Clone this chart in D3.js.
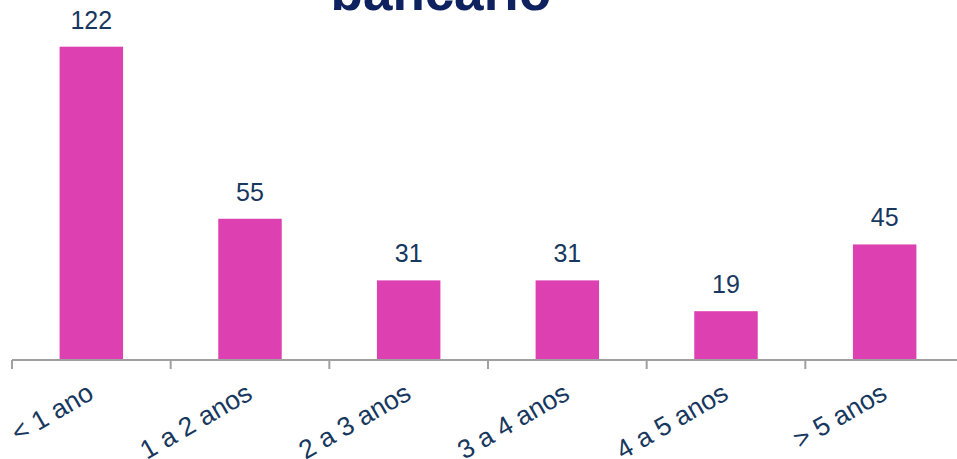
<!DOCTYPE html>
<html>
<head>
<meta charset="utf-8">
<script src="https://cdn.jsdelivr.net/npm/d3@7"></script>
<style>
  html, body { margin: 0; padding: 0; background: #fff; }
  svg { display: block; font-family: "Liberation Sans", Arial, sans-serif; }
</style>
</head>
<body>
<div id="chart"></div>
<script>
const categories = ["< 1 ano", "1 a 2 anos", "2 a 3 anos", "3 a 4 anos", "4 a 5 anos", "> 5 anos"]
const values = [122, 55, 31, 31, 19, 45]
const title = "bancário"

const width = 957
const height = 459
const baseline = 360

const svg = d3.select("#chart")
  .append("svg")
  .attr("width", width)
  .attr("height", height)

// band per category, ticks sit on band edges
const x = d3.scaleBand()
  .domain(categories)
  .range([12, 964])
  .padding(0)

const y = d3.scaleLinear()
  .domain([0, 122])
  .range([baseline, 46.7])

const barW = x.bandwidth() * 0.4

// title (only the last line fits in view)
svg.append("text")
  .attr("x", 441)
  .attr("y", 10)
  .attr("text-anchor", "middle")
  .style("font-size", "53px")
  .style("font-weight", "bold")
  .style("fill", "#0E2260")
  .text(title)

// bars
svg.append("g")
  .selectAll("rect")
  .data(values)
  .join("rect")
  .attr("x", (d, i) => x(categories[i]) + (x.bandwidth() - barW) / 2)
  .attr("y", (d) => y(d))
  .attr("width", barW)
  .attr("height", (d) => baseline - y(d))
  .attr("fill", "#DC40B1")

// value labels
svg.append("g")
  .selectAll("text")
  .data(values)
  .join("text")
  .attr("x", (d, i) => x(categories[i]) + x.bandwidth() / 2)
  .attr("y", (d) => y(d) - 18)
  .attr("text-anchor", "middle")
  .style("font-size", "25px")
  .style("fill", "#17375E")
  .text((d) => d)

// axis line + ticks at band edges
const axis = svg.append("g")
axis.append("line")
  .attr("x1", x.range()[0])
  .attr("x2", width)
  .attr("y1", baseline)
  .attr("y2", baseline)
  .attr("stroke", "#A0A0A0")
  .attr("stroke-width", 2)

axis.selectAll("line.tick")
  .data(categories)
  .join("line")
  .attr("class", "tick")
  .attr("x1", (d) => x(d))
  .attr("x2", (d) => x(d))
  .attr("y1", baseline)
  .attr("y2", baseline + 9)
  .attr("stroke", "#A0A0A0")
  .attr("stroke-width", 2)

// rotated category labels
axis.selectAll("text")
  .data(categories)
  .join("text")
  .attr("transform", (d) => `translate(${x(d) + x.bandwidth() / 2 + 4},${baseline + 38}) rotate(-30)`)
  .attr("text-anchor", "end")
  .style("font-size", "26.5px")
  .style("fill", "#17375E")
  .text((d) => d)
</script>
</body>
</html>
